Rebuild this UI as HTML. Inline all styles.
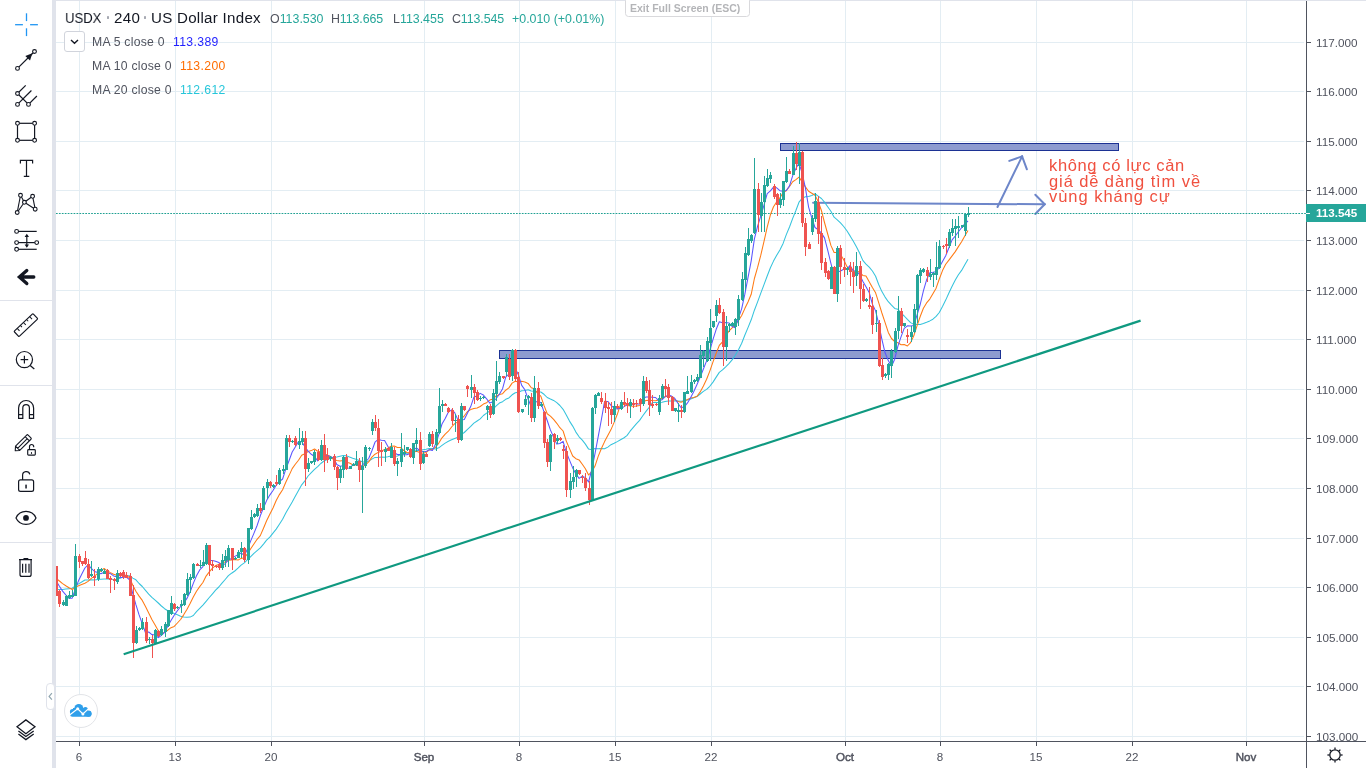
<!DOCTYPE html>
<html><head><meta charset="utf-8"><title>USDX</title>
<style>
html,body{margin:0;padding:0;}
body{width:1366px;height:768px;overflow:hidden;background:#fff;position:relative;font-family:"Liberation Sans",sans-serif;color:#131722;}
.abs{position:absolute;}
.plab,.tlab,.cur,.title,.ohlc,.leg,.val,.exit,.note{will-change:transform;}
.strip{position:absolute;left:52px;top:0;width:4px;height:768px;background:#e0e3eb;}
.topline{position:absolute;left:52px;top:0;width:1314px;height:1px;background:#e0e3eb;}
.sep{position:absolute;left:0;width:52px;height:1px;background:#e0e3eb;}
svg.chart{position:absolute;left:56px;top:0;}
svg.tb{position:absolute;left:0;top:0;}
.paxis{position:absolute;left:1306px;top:1px;width:1px;height:767px;background:#4f535e;}
.taxis{position:absolute;left:56px;top:741px;width:1310px;height:1px;background:#4f535e;}
.ptick{position:absolute;left:1307px;width:4px;height:1px;background:#4f535e;}
.plab{position:absolute;left:1315.6px;width:50px;height:15px;line-height:15px;font-size:11.7px;margin-top:0.1px;color:#50535e;white-space:nowrap;}
.ttick{position:absolute;top:742px;width:1px;height:4px;background:#4f535e;}
.tlab{position:absolute;top:749px;width:60px;text-align:center;font-size:11.6px;line-height:16px;color:#50535e;}
.tlab.b{font-weight:normal;-webkit-text-stroke:0.45px #50535e;}
.cur{position:absolute;left:1306px;top:204px;width:60px;height:18px;background:#26a69a;color:#fff;font-weight:bold;font-size:11.6px;line-height:18px;}
.cur span{position:absolute;left:10px;}
.cur i{position:absolute;left:0;top:9px;width:4px;height:1px;background:#fff;}
.title{position:absolute;left:64.9px;top:8.9px;font-size:15.1px;letter-spacing:0.22px;line-height:18px;white-space:nowrap;color:#131722;}
.title.dot{color:#9a9da6;}
.ohlc{position:absolute;top:10.6px;font-size:12.4px;line-height:16px;white-space:nowrap;color:#50535e;}
.ohlc b{font-weight:normal;color:#26a69a;}
.leg{position:absolute;left:91.7px;font-size:12.2px;letter-spacing:0.24px;line-height:16px;white-space:nowrap;color:#50535e;}
.val{position:absolute;font-size:12.2px;letter-spacing:0.36px;line-height:16px;white-space:nowrap;}
.tog{position:absolute;left:64px;top:31px;width:19px;height:19px;border:1px solid #d1d4dc;border-radius:3px;background:#fff;box-sizing:content-box;}
.exit{position:absolute;left:624.5px;top:-3px;width:125px;height:19.5px;border:1px solid #d9d9dc;border-radius:3.5px;background:#fff;font-size:10.5px;line-height:20px;color:#b4b5b8;font-weight:bold;text-align:left;padding-left:4px;box-sizing:border-box;white-space:nowrap;}
.note{position:absolute;left:1049px;font-size:16.5px;line-height:16px;height:16px;color:#f0503f;white-space:nowrap;}
.tab{position:absolute;left:46px;top:683px;width:6.6px;height:24.5px;border:1px solid #e0e3eb;border-radius:4px;background:#fff;}
.logo{position:absolute;left:64px;top:694px;width:32px;height:32px;border:1px solid #e2e4e8;border-radius:50%;background:#fff;}
</style></head><body>
<svg class="chart" width="1250" height="741" viewBox="0 0 1250 741"><g shape-rendering="crispEdges"><rect x="23" y="0" width="1" height="741" fill="#e3edf3"/><rect x="119" y="0" width="1" height="741" fill="#e3edf3"/><rect x="215" y="0" width="1" height="741" fill="#e3edf3"/><rect x="368" y="0" width="1" height="741" fill="#e3edf3"/><rect x="463" y="0" width="1" height="741" fill="#e3edf3"/><rect x="559" y="0" width="1" height="741" fill="#e3edf3"/><rect x="655" y="0" width="1" height="741" fill="#e3edf3"/><rect x="789" y="0" width="1" height="741" fill="#e3edf3"/><rect x="884" y="0" width="1" height="741" fill="#e3edf3"/><rect x="980" y="0" width="1" height="741" fill="#e3edf3"/><rect x="1076" y="0" width="1" height="741" fill="#e3edf3"/><rect x="1190" y="0" width="1" height="741" fill="#e3edf3"/><rect x="0" y="736" width="1248" height="1" fill="#e3edf3"/><rect x="0" y="686" width="1248" height="1" fill="#e3edf3"/><rect x="0" y="637" width="1248" height="1" fill="#e3edf3"/><rect x="0" y="587" width="1248" height="1" fill="#e3edf3"/><rect x="0" y="538" width="1248" height="1" fill="#e3edf3"/><rect x="0" y="488" width="1248" height="1" fill="#e3edf3"/><rect x="0" y="438" width="1248" height="1" fill="#e3edf3"/><rect x="0" y="389" width="1248" height="1" fill="#e3edf3"/><rect x="0" y="339" width="1248" height="1" fill="#e3edf3"/><rect x="0" y="290" width="1248" height="1" fill="#e3edf3"/><rect x="0" y="240" width="1248" height="1" fill="#e3edf3"/><rect x="0" y="190" width="1248" height="1" fill="#e3edf3"/><rect x="0" y="141" width="1248" height="1" fill="#e3edf3"/><rect x="0" y="91" width="1248" height="1" fill="#e3edf3"/><rect x="0" y="42" width="1248" height="1" fill="#e3edf3"/></g><g shape-rendering="crispEdges"><rect x="443" y="350" width="502" height="9" fill="#1c3294"/><rect x="444" y="351" width="500" height="7" fill="#8d9bd0"/><rect x="724" y="143" width="339" height="8" fill="#1c3294"/><rect x="725" y="144" width="337" height="6" fill="#8d9bd0"/></g><line x1="757.1" y1="202.8" x2="988.7" y2="204.3" stroke="#6d86c9" stroke-width="2" stroke-linecap="round"/><line x1="988.7" y1="204.3" x2="979.3" y2="194.7" stroke="#6d86c9" stroke-width="2" stroke-linecap="round"/><line x1="988.7" y1="204.3" x2="979.3" y2="214.0" stroke="#6d86c9" stroke-width="2" stroke-linecap="round"/><line x1="941.5" y1="207.0" x2="966.1" y2="156.4" stroke="#6d86c9" stroke-width="2" stroke-linecap="round"/><line x1="966.1" y1="156.4" x2="953.3" y2="160.9" stroke="#6d86c9" stroke-width="2" stroke-linecap="round"/><line x1="966.1" y1="156.4" x2="970.9" y2="169.3" stroke="#6d86c9" stroke-width="2" stroke-linecap="round"/><line x1="0" y1="213.5" x2="1250" y2="213.5" stroke="#1fa092" stroke-width="1.2" stroke-dasharray="1.7 1.23"/><polyline points="0.2,589.5 3.4,589.6 6.6,589.5 9.8,589.1 13.0,588.7 16.2,588.3 19.4,586.0 22.6,583.9 25.7,582.0 28.9,580.0 32.1,579.9 35.3,579.7 38.5,579.9 41.7,579.6 44.9,579.3 48.1,579.0 51.2,579.1 54.4,579.2 57.6,579.4 60.8,579.2 64.0,578.2 67.2,576.9 70.4,575.7 73.6,575.7 76.8,578.1 79.9,579.8 83.1,583.5 86.3,586.5 89.5,590.3 92.7,594.1 95.9,597.3 99.1,600.1 102.3,603.0 105.4,606.0 108.6,608.7 111.8,610.7 115.0,611.9 118.2,613.4 121.4,614.7 124.6,616.2 127.8,617.1 130.9,617.2 134.1,617.1 137.3,615.5 140.5,611.7 143.7,608.4 146.9,605.1 150.1,601.3 153.3,597.5 156.5,593.8 159.6,590.1 162.8,587.0 166.0,583.2 169.2,579.5 172.4,575.7 175.6,573.2 178.8,571.0 182.0,568.1 185.1,565.1 188.3,562.9 191.5,559.7 194.7,556.6 197.9,553.4 201.1,550.7 204.3,547.9 207.5,544.1 210.6,540.1 213.8,537.2 217.0,533.2 220.2,529.1 223.4,524.2 226.6,519.2 229.8,513.1 233.0,507.4 236.2,502.1 239.3,496.3 242.5,490.5 245.7,484.8 248.9,480.8 252.1,476.0 255.3,472.6 258.5,469.4 261.7,466.7 264.8,463.5 268.0,461.0 271.2,459.6 274.4,458.4 277.6,457.4 280.8,457.0 284.0,456.3 287.2,455.6 290.3,455.7 293.5,457.1 296.7,458.2 299.9,459.2 303.1,460.5 306.3,461.7 309.5,462.2 312.7,461.1 315.9,459.1 319.0,457.4 322.2,457.4 325.4,457.0 328.6,457.2 331.8,456.7 335.0,456.1 338.2,456.4 341.4,456.1 344.5,454.7 347.7,453.8 350.9,453.3 354.1,452.7 357.3,451.6 360.5,450.4 363.7,450.5 366.9,449.7 370.0,449.3 373.2,448.6 376.4,448.4 379.6,448.9 382.8,447.8 386.0,445.4 389.2,443.1 392.4,441.3 395.6,439.8 398.7,438.4 401.9,437.2 405.1,434.5 408.3,432.5 411.5,429.4 414.7,426.4 417.9,423.1 421.1,421.0 424.2,418.9 427.4,415.5 430.6,413.1 433.8,411.0 437.0,409.0 440.2,405.9 443.4,403.1 446.6,401.7 449.7,399.3 452.9,397.9 456.1,394.8 459.3,392.7 462.5,392.3 465.7,390.7 468.9,390.4 472.1,389.7 475.3,391.1 478.4,391.2 481.6,391.8 484.8,392.0 488.0,394.3 491.2,397.5 494.4,399.0 497.6,400.4 500.8,402.6 503.9,405.5 507.1,409.3 510.3,414.9 513.5,421.1 516.7,426.1 519.9,432.1 523.1,436.8 526.3,440.1 529.4,444.1 532.6,449.1 535.8,449.7 539.0,448.5 542.2,448.7 545.4,448.6 548.6,448.8 551.8,447.1 555.0,444.7 558.1,443.3 561.3,441.6 564.5,439.7 567.7,438.0 570.9,435.6 574.1,431.2 577.3,427.4 580.5,423.7 583.6,420.4 586.8,415.8 590.0,411.4 593.2,407.2 596.4,402.5 599.6,402.4 602.8,402.6 606.0,402.2 609.1,401.6 612.3,401.0 615.5,401.1 618.7,400.8 621.9,401.0 625.1,401.2 628.3,400.7 631.5,400.1 634.7,399.0 637.8,397.8 641.0,396.5 644.2,394.0 647.4,391.4 650.6,389.4 653.8,386.3 657.0,382.1 660.2,377.1 663.3,372.4 666.5,369.9 669.7,366.9 672.9,363.6 676.1,359.9 679.3,355.3 682.5,349.8 685.7,343.3 688.8,335.3 692.0,327.6 695.2,319.8 698.4,310.2 701.6,301.9 704.8,293.1 708.0,284.6 711.2,276.0 714.4,267.7 717.5,261.1 720.7,255.3 723.9,249.9 727.1,243.4 730.3,234.6 733.5,227.0 736.7,218.4 739.9,210.5 743.0,202.2 746.2,198.4 749.4,196.8 752.6,196.6 755.8,195.5 759.0,193.8 762.2,196.1 765.4,198.5 768.5,202.1 771.7,206.8 774.9,211.3 778.1,217.2 781.3,219.8 784.5,222.9 787.7,226.5 790.9,230.8 794.1,235.9 797.2,241.1 800.4,246.7 803.6,253.0 806.8,260.4 810.0,264.2 813.2,267.2 816.4,271.0 819.6,276.2 822.7,284.5 825.9,291.6 829.1,297.1 832.3,301.7 835.5,305.2 838.7,308.4 841.9,309.3 845.1,313.2 848.2,316.0 851.4,319.4 854.6,322.6 857.8,324.4 861.0,324.3 864.2,324.4 867.4,323.4 870.6,322.2 873.8,320.9 876.9,319.2 880.1,316.4 883.3,312.5 886.5,306.6 889.7,300.1 892.9,293.0 896.1,286.2 899.3,280.0 902.4,274.7 905.6,270.4 908.8,264.8 912.0,259.3" fill="none" stroke="#35c3dc" stroke-width="1.05" stroke-linejoin="round"/><polyline points="0.2,578.4 3.4,581.0 6.6,583.6 9.8,585.7 13.0,587.7 16.2,589.5 19.4,587.4 22.6,585.8 25.7,584.5 28.9,583.2 32.1,581.4 35.3,578.4 38.5,576.1 41.7,573.4 44.9,570.9 48.1,568.5 51.2,570.8 54.4,572.6 57.6,574.3 60.8,575.2 64.0,575.0 67.2,575.3 70.4,575.3 73.6,577.9 76.8,585.3 79.9,591.2 83.1,596.1 86.3,600.4 89.5,606.4 92.7,613.0 95.9,619.6 99.1,624.9 102.3,630.7 105.4,634.1 108.6,632.2 111.8,630.2 115.0,627.7 118.2,626.4 121.4,623.0 124.6,619.5 127.8,614.6 130.9,609.5 134.1,603.6 137.3,597.0 140.5,591.2 143.7,586.6 146.9,582.5 150.1,576.1 153.3,571.9 156.5,568.2 159.6,565.6 162.8,564.5 166.0,562.8 169.2,562.1 172.4,560.3 175.6,559.9 178.8,559.4 182.0,560.1 185.1,558.4 188.3,557.7 191.5,553.8 194.7,548.7 197.9,544.0 201.1,539.3 204.3,535.6 207.5,528.3 210.6,520.8 213.8,514.2 217.0,508.0 220.2,500.5 223.4,494.6 226.6,489.8 229.8,482.2 233.0,475.6 236.2,468.6 239.3,464.3 242.5,460.2 245.7,455.3 248.9,453.7 252.1,451.5 255.3,450.6 258.5,449.0 261.7,451.2 264.8,451.5 268.0,453.4 271.2,454.9 274.4,456.5 277.6,459.5 280.8,460.4 284.0,461.0 287.2,460.6 290.3,462.3 293.5,463.0 296.7,464.8 299.9,465.0 303.1,466.0 306.3,466.8 309.5,464.8 312.7,461.9 315.9,457.1 319.0,454.2 322.2,452.4 325.4,451.0 328.6,449.6 331.8,448.5 335.0,446.2 338.2,446.0 341.4,447.4 344.5,447.5 347.7,450.5 350.9,452.5 354.1,453.1 357.3,452.2 360.5,451.3 363.7,452.6 366.9,453.2 370.0,452.5 373.2,449.8 376.4,449.2 379.6,447.3 382.8,443.1 386.0,437.8 389.2,434.1 392.4,431.2 395.6,427.0 398.7,423.6 401.9,421.9 405.1,419.2 408.3,415.8 411.5,411.5 414.7,409.6 417.9,408.5 421.1,407.9 424.2,406.5 427.4,404.1 430.6,402.7 433.8,400.1 437.0,398.9 440.2,396.0 443.4,394.6 446.6,393.7 449.7,390.2 452.9,387.9 456.1,383.1 459.3,381.3 462.5,381.9 465.7,381.3 468.9,381.9 472.1,383.4 475.3,387.7 478.4,388.7 481.6,393.5 484.8,396.1 488.0,405.4 491.2,413.8 494.4,416.1 497.6,419.4 500.8,423.3 503.9,427.7 507.1,431.0 510.3,441.1 513.5,448.6 516.7,456.0 519.9,458.7 523.1,459.9 526.3,464.2 529.4,468.8 532.6,475.0 535.8,471.7 539.0,466.1 542.2,456.4 545.4,448.5 548.6,441.6 551.8,435.5 555.0,429.6 558.1,422.4 561.3,414.3 564.5,404.5 567.7,404.2 570.9,405.2 574.1,406.1 577.3,406.3 580.5,405.9 583.6,405.4 586.8,402.0 590.0,400.5 593.2,400.2 596.4,400.6 599.6,400.7 602.8,400.0 606.0,398.3 609.1,396.8 612.3,396.1 615.5,396.8 618.7,399.6 621.9,401.5 625.1,402.3 628.3,400.9 631.5,399.5 634.7,398.0 637.8,397.4 641.0,396.2 644.2,391.9 647.4,385.9 650.6,379.2 653.8,371.1 657.0,361.9 660.2,353.2 663.3,345.4 666.5,341.8 669.7,336.5 672.9,331.1 676.1,327.9 679.3,324.7 682.5,320.5 685.7,315.5 688.8,308.6 692.0,302.0 695.2,294.3 698.4,278.5 701.6,267.4 704.8,255.2 708.0,241.3 711.2,227.2 714.4,214.8 717.5,206.7 720.7,201.9 723.9,197.9 727.1,192.4 730.3,190.7 733.5,186.5 736.7,181.7 739.9,179.6 743.0,177.1 746.2,181.9 749.4,186.9 752.6,191.3 755.8,193.2 759.0,195.2 762.2,201.5 765.4,210.5 768.5,222.5 771.7,234.0 774.9,245.4 778.1,252.5 781.3,252.6 784.5,254.5 787.7,259.7 790.9,266.4 794.1,270.2 797.2,271.6 800.4,271.0 803.6,272.0 806.8,275.4 810.0,275.9 813.2,281.7 816.4,287.5 819.6,292.8 822.7,302.6 825.9,313.0 829.1,322.6 832.3,332.4 835.5,338.5 838.7,341.5 841.9,342.7 845.1,344.7 848.2,344.5 851.4,346.0 854.6,342.6 857.8,335.8 861.0,325.9 864.2,316.5 867.4,308.3 870.6,302.9 873.8,299.1 876.9,293.8 880.1,288.2 883.3,279.0 886.5,270.6 889.7,264.3 892.9,260.1 896.1,255.9 899.3,251.6 902.4,246.6 905.6,241.8 908.8,235.9 912.0,230.5" fill="none" stroke="#ff7a14" stroke-width="1.05" stroke-linejoin="round"/><polyline points="0.2,580.9 3.4,586.3 6.6,591.1 9.8,594.8 13.0,598.3 16.2,598.2 19.4,588.6 22.6,580.6 25.7,574.2 28.9,568.0 32.1,564.7 35.3,568.3 38.5,571.5 41.7,572.6 44.9,573.7 48.1,572.3 51.2,573.3 54.4,573.6 57.6,575.9 60.8,576.7 64.0,577.6 67.2,577.3 70.4,577.0 73.6,579.9 76.8,593.9 79.9,604.7 83.1,614.9 86.3,623.8 89.5,632.8 92.7,632.0 95.9,634.6 99.1,634.9 102.3,637.6 105.4,635.3 108.6,632.4 111.8,625.9 115.0,620.5 118.2,615.2 121.4,610.7 124.6,606.5 127.8,603.3 130.9,598.4 134.1,592.0 137.3,583.4 140.5,575.8 143.7,569.9 146.9,566.6 150.1,560.3 153.3,560.4 156.5,560.6 159.6,561.2 162.8,562.5 166.0,565.4 169.2,563.7 172.4,560.0 175.6,558.6 178.8,556.4 182.0,554.7 185.1,553.0 188.3,555.4 191.5,549.0 194.7,540.9 197.9,533.4 201.1,525.5 204.3,515.8 207.5,507.7 210.6,500.6 213.8,495.1 217.0,490.5 220.2,485.2 223.4,481.6 226.6,479.0 229.8,469.2 233.0,460.7 236.2,452.0 239.3,446.9 242.5,441.4 245.7,441.4 248.9,446.7 252.1,451.1 255.3,454.3 258.5,456.5 261.7,460.9 264.8,456.3 268.0,455.7 271.2,455.5 274.4,456.5 277.6,458.1 280.8,464.5 284.0,466.3 287.2,465.8 290.3,468.2 293.5,468.0 296.7,465.2 299.9,463.6 303.1,466.2 306.3,465.5 309.5,461.7 312.7,458.5 315.9,450.7 319.0,442.2 322.2,439.4 325.4,440.3 328.6,440.6 331.8,446.3 335.0,450.1 338.2,452.7 341.4,454.5 344.5,454.5 347.7,454.8 350.9,454.8 354.1,453.4 357.3,449.9 360.5,448.0 363.7,450.4 366.9,451.7 370.0,451.6 373.2,449.7 376.4,450.4 379.6,444.1 382.8,434.6 386.0,424.0 389.2,418.4 392.4,412.1 395.6,409.9 398.7,412.6 401.9,419.9 405.1,419.9 408.3,419.5 411.5,413.1 414.7,406.6 417.9,397.1 421.1,395.9 424.2,393.4 427.4,395.0 430.6,398.8 433.8,403.1 437.0,401.8 440.2,398.5 443.4,394.3 446.6,388.7 449.7,377.2 452.9,374.0 456.1,367.8 459.3,368.3 462.5,375.1 465.7,385.4 468.9,389.8 472.1,399.0 475.3,407.0 478.4,402.3 481.6,401.5 484.8,402.4 488.0,411.8 491.2,420.5 494.4,429.9 497.6,437.2 500.8,444.1 503.9,443.5 507.1,441.4 510.3,452.3 513.5,460.1 516.7,467.9 519.9,473.9 523.1,478.4 526.3,476.1 529.4,477.6 532.6,482.0 535.8,469.5 539.0,453.7 542.2,436.7 545.4,419.5 548.6,401.2 551.8,401.4 555.0,405.4 558.1,408.0 561.3,409.1 564.5,407.9 567.7,406.9 570.9,404.9 574.1,404.1 577.3,403.5 580.5,403.9 583.6,403.9 586.8,399.1 590.0,396.9 593.2,396.9 596.4,397.2 599.6,397.5 602.8,400.8 606.0,399.8 609.1,396.7 612.3,395.1 615.5,396.1 618.7,398.3 621.9,403.2 625.1,407.8 628.3,406.8 631.5,402.9 634.7,397.6 637.8,391.5 641.0,384.5 644.2,377.1 647.4,369.0 650.6,360.9 653.8,350.6 657.0,339.3 660.2,329.3 663.3,321.7 666.5,322.8 669.7,322.4 672.9,322.9 676.1,326.5 679.3,327.7 682.5,318.1 685.7,308.6 688.8,294.4 692.0,277.6 695.2,260.8 698.4,238.8 701.6,226.2 704.8,215.9 708.0,205.1 711.2,193.6 714.4,190.8 717.5,187.2 720.7,187.8 723.9,190.7 727.1,191.3 730.3,190.5 733.5,185.9 736.7,175.6 739.9,168.6 743.0,163.0 746.2,173.3 749.4,187.9 752.6,207.1 755.8,217.8 759.0,227.5 762.2,229.7 765.4,233.1 768.5,237.9 771.7,250.1 774.9,263.3 778.1,275.2 781.3,272.2 784.5,271.0 787.7,269.2 790.9,269.4 794.1,265.2 797.2,271.0 800.4,270.9 803.6,274.7 806.8,281.3 810.0,286.7 813.2,292.5 816.4,304.1 819.6,310.9 822.7,323.8 825.9,339.3 829.1,352.8 832.3,360.6 835.5,366.2 838.7,359.2 841.9,346.1 845.1,336.6 848.2,328.4 851.4,325.8 854.6,325.9 857.8,325.6 861.0,315.2 864.2,304.5 867.4,290.9 870.6,279.8 873.8,272.7 876.9,272.3 880.1,271.8 883.3,267.2 886.5,261.4 889.7,255.8 892.9,247.8 896.1,239.9 899.3,236.0 902.4,231.8 905.6,227.7 908.8,223.9 912.0,221.0" fill="none" stroke="#5a55ff" stroke-width="1.05" stroke-linejoin="round"/><g shape-rendering="crispEdges"><rect x="0" y="566" width="1" height="30" fill="#ef5350"/><rect x="-1" y="566" width="3" height="30" fill="#ef5350"/><rect x="3" y="590" width="1" height="17" fill="#ef5350"/><rect x="2" y="591" width="3" height="13" fill="#ef5350"/><rect x="7" y="600" width="1" height="6" fill="#26a69a"/><rect x="6" y="602" width="3" height="3" fill="#26a69a"/><rect x="10" y="595" width="1" height="11" fill="#26a69a"/><rect x="9" y="596" width="3" height="10" fill="#26a69a"/><rect x="13" y="591" width="1" height="8" fill="#26a69a"/><rect x="12" y="595" width="3" height="3" fill="#26a69a"/><rect x="16" y="590" width="1" height="7" fill="#26a69a"/><rect x="15" y="595" width="3" height="2" fill="#26a69a"/><rect x="19" y="544" width="1" height="52" fill="#26a69a"/><rect x="18" y="556" width="3" height="40" fill="#26a69a"/><rect x="23" y="554" width="1" height="14" fill="#ef5350"/><rect x="22" y="556" width="3" height="6" fill="#ef5350"/><rect x="26" y="561" width="1" height="5" fill="#ef5350"/><rect x="25" y="561" width="3" height="3" fill="#ef5350"/><rect x="29" y="551" width="1" height="14" fill="#ef5350"/><rect x="28" y="558" width="3" height="6" fill="#ef5350"/><rect x="32" y="559" width="1" height="20" fill="#ef5350"/><rect x="31" y="564" width="3" height="14" fill="#ef5350"/><rect x="35" y="561" width="1" height="16" fill="#26a69a"/><rect x="34" y="574" width="3" height="2" fill="#26a69a"/><rect x="38" y="569" width="1" height="17" fill="#ef5350"/><rect x="37" y="576" width="3" height="2" fill="#ef5350"/><rect x="42" y="567" width="1" height="14" fill="#26a69a"/><rect x="41" y="569" width="3" height="10" fill="#26a69a"/><rect x="45" y="568" width="1" height="4" fill="#26a69a"/><rect x="44" y="569" width="3" height="2" fill="#26a69a"/><rect x="48" y="569" width="1" height="5" fill="#26a69a"/><rect x="47" y="571" width="3" height="3" fill="#26a69a"/><rect x="51" y="569" width="1" height="10" fill="#ef5350"/><rect x="50" y="570" width="3" height="9" fill="#ef5350"/><rect x="54" y="576" width="1" height="17" fill="#ef5350"/><rect x="53" y="578" width="3" height="2" fill="#ef5350"/><rect x="58" y="578" width="1" height="12" fill="#ef5350"/><rect x="57" y="579" width="3" height="2" fill="#ef5350"/><rect x="61" y="570" width="1" height="14" fill="#26a69a"/><rect x="60" y="573" width="3" height="9" fill="#26a69a"/><rect x="64" y="572" width="1" height="5" fill="#ef5350"/><rect x="63" y="573" width="3" height="3" fill="#ef5350"/><rect x="67" y="570" width="1" height="9" fill="#ef5350"/><rect x="66" y="572" width="3" height="5" fill="#ef5350"/><rect x="70" y="572" width="1" height="6" fill="#ef5350"/><rect x="69" y="575" width="3" height="3" fill="#ef5350"/><rect x="74" y="573" width="1" height="23" fill="#ef5350"/><rect x="73" y="576" width="3" height="20" fill="#ef5350"/><rect x="77" y="585" width="1" height="73" fill="#ef5350"/><rect x="76" y="595" width="3" height="48" fill="#ef5350"/><rect x="80" y="626" width="1" height="18" fill="#26a69a"/><rect x="79" y="630" width="3" height="13" fill="#26a69a"/><rect x="83" y="627" width="1" height="4" fill="#26a69a"/><rect x="82" y="628" width="3" height="2" fill="#26a69a"/><rect x="86" y="618" width="1" height="12" fill="#26a69a"/><rect x="85" y="622" width="3" height="7" fill="#26a69a"/><rect x="90" y="617" width="1" height="26" fill="#ef5350"/><rect x="89" y="622" width="3" height="19" fill="#ef5350"/><rect x="93" y="637" width="1" height="7" fill="#26a69a"/><rect x="92" y="639" width="3" height="1" fill="#26a69a"/><rect x="96" y="635" width="1" height="23" fill="#ef5350"/><rect x="95" y="639" width="3" height="4" fill="#ef5350"/><rect x="99" y="629" width="1" height="15" fill="#26a69a"/><rect x="98" y="630" width="3" height="14" fill="#26a69a"/><rect x="102" y="630" width="1" height="7" fill="#ef5350"/><rect x="101" y="631" width="3" height="5" fill="#ef5350"/><rect x="105" y="626" width="1" height="10" fill="#26a69a"/><rect x="104" y="629" width="3" height="6" fill="#26a69a"/><rect x="109" y="622" width="1" height="15" fill="#26a69a"/><rect x="108" y="624" width="3" height="8" fill="#26a69a"/><rect x="112" y="610" width="1" height="17" fill="#26a69a"/><rect x="111" y="610" width="3" height="16" fill="#26a69a"/><rect x="115" y="596" width="1" height="19" fill="#26a69a"/><rect x="114" y="603" width="3" height="11" fill="#26a69a"/><rect x="118" y="603" width="1" height="8" fill="#ef5350"/><rect x="117" y="604" width="3" height="5" fill="#ef5350"/><rect x="121" y="606" width="1" height="3" fill="#26a69a"/><rect x="120" y="607" width="3" height="1" fill="#26a69a"/><rect x="125" y="600" width="1" height="13" fill="#26a69a"/><rect x="124" y="604" width="3" height="2" fill="#26a69a"/><rect x="128" y="593" width="1" height="13" fill="#26a69a"/><rect x="127" y="594" width="3" height="11" fill="#26a69a"/><rect x="131" y="573" width="1" height="23" fill="#26a69a"/><rect x="130" y="579" width="3" height="16" fill="#26a69a"/><rect x="134" y="574" width="1" height="19" fill="#26a69a"/><rect x="133" y="577" width="3" height="3" fill="#26a69a"/><rect x="137" y="563" width="1" height="16" fill="#26a69a"/><rect x="136" y="564" width="3" height="14" fill="#26a69a"/><rect x="141" y="563" width="1" height="3" fill="#ef5350"/><rect x="140" y="564" width="3" height="2" fill="#ef5350"/><rect x="144" y="560" width="1" height="8" fill="#26a69a"/><rect x="143" y="565" width="3" height="1" fill="#26a69a"/><rect x="147" y="550" width="1" height="16" fill="#26a69a"/><rect x="146" y="562" width="3" height="4" fill="#26a69a"/><rect x="150" y="543" width="1" height="22" fill="#26a69a"/><rect x="149" y="545" width="3" height="19" fill="#26a69a"/><rect x="153" y="545" width="1" height="31" fill="#ef5350"/><rect x="152" y="545" width="3" height="20" fill="#ef5350"/><rect x="156" y="560" width="1" height="11" fill="#ef5350"/><rect x="155" y="564" width="3" height="2" fill="#ef5350"/><rect x="160" y="565" width="1" height="3" fill="#ef5350"/><rect x="159" y="566" width="3" height="1" fill="#ef5350"/><rect x="163" y="563" width="1" height="7" fill="#ef5350"/><rect x="162" y="564" width="3" height="4" fill="#ef5350"/><rect x="166" y="554" width="1" height="16" fill="#26a69a"/><rect x="165" y="560" width="3" height="8" fill="#26a69a"/><rect x="169" y="550" width="1" height="17" fill="#26a69a"/><rect x="168" y="556" width="3" height="5" fill="#26a69a"/><rect x="172" y="545" width="1" height="22" fill="#26a69a"/><rect x="171" y="548" width="3" height="12" fill="#26a69a"/><rect x="176" y="548" width="1" height="22" fill="#ef5350"/><rect x="175" y="548" width="3" height="12" fill="#ef5350"/><rect x="179" y="557" width="1" height="3" fill="#26a69a"/><rect x="178" y="558" width="3" height="1" fill="#26a69a"/><rect x="182" y="550" width="1" height="8" fill="#26a69a"/><rect x="181" y="552" width="3" height="6" fill="#26a69a"/><rect x="185" y="542" width="1" height="16" fill="#26a69a"/><rect x="184" y="548" width="3" height="4" fill="#26a69a"/><rect x="188" y="547" width="1" height="15" fill="#ef5350"/><rect x="187" y="548" width="3" height="12" fill="#ef5350"/><rect x="192" y="528" width="1" height="36" fill="#26a69a"/><rect x="191" y="528" width="3" height="32" fill="#26a69a"/><rect x="195" y="510" width="1" height="20" fill="#26a69a"/><rect x="194" y="517" width="3" height="12" fill="#26a69a"/><rect x="198" y="513" width="1" height="5" fill="#26a69a"/><rect x="197" y="514" width="3" height="3" fill="#26a69a"/><rect x="201" y="504" width="1" height="13" fill="#26a69a"/><rect x="200" y="508" width="3" height="8" fill="#26a69a"/><rect x="204" y="503" width="1" height="10" fill="#ef5350"/><rect x="203" y="508" width="3" height="3" fill="#ef5350"/><rect x="207" y="486" width="1" height="24" fill="#26a69a"/><rect x="206" y="488" width="3" height="22" fill="#26a69a"/><rect x="211" y="479" width="1" height="20" fill="#26a69a"/><rect x="210" y="482" width="3" height="6" fill="#26a69a"/><rect x="214" y="481" width="1" height="7" fill="#ef5350"/><rect x="213" y="482" width="3" height="4" fill="#ef5350"/><rect x="217" y="484" width="1" height="4" fill="#26a69a"/><rect x="216" y="485" width="3" height="2" fill="#26a69a"/><rect x="220" y="475" width="1" height="11" fill="#ef5350"/><rect x="219" y="482" width="3" height="2" fill="#ef5350"/><rect x="223" y="468" width="1" height="17" fill="#26a69a"/><rect x="222" y="470" width="3" height="14" fill="#26a69a"/><rect x="227" y="465" width="1" height="9" fill="#26a69a"/><rect x="226" y="469" width="3" height="2" fill="#26a69a"/><rect x="230" y="435" width="1" height="35" fill="#26a69a"/><rect x="229" y="438" width="3" height="32" fill="#26a69a"/><rect x="233" y="435" width="1" height="12" fill="#ef5350"/><rect x="232" y="438" width="3" height="4" fill="#ef5350"/><rect x="236" y="440" width="1" height="3" fill="#26a69a"/><rect x="235" y="441" width="3" height="1" fill="#26a69a"/><rect x="239" y="436" width="1" height="10" fill="#ef5350"/><rect x="238" y="438" width="3" height="7" fill="#ef5350"/><rect x="243" y="428" width="1" height="21" fill="#26a69a"/><rect x="242" y="441" width="3" height="4" fill="#26a69a"/><rect x="246" y="431" width="1" height="14" fill="#26a69a"/><rect x="245" y="438" width="3" height="4" fill="#26a69a"/><rect x="249" y="431" width="1" height="55" fill="#ef5350"/><rect x="248" y="438" width="3" height="31" fill="#ef5350"/><rect x="252" y="458" width="1" height="14" fill="#26a69a"/><rect x="251" y="463" width="3" height="6" fill="#26a69a"/><rect x="255" y="461" width="1" height="3" fill="#26a69a"/><rect x="254" y="461" width="3" height="2" fill="#26a69a"/><rect x="258" y="450" width="1" height="15" fill="#26a69a"/><rect x="257" y="452" width="3" height="10" fill="#26a69a"/><rect x="262" y="449" width="1" height="12" fill="#ef5350"/><rect x="261" y="452" width="3" height="8" fill="#ef5350"/><rect x="265" y="440" width="1" height="21" fill="#26a69a"/><rect x="264" y="445" width="3" height="15" fill="#26a69a"/><rect x="268" y="434" width="1" height="38" fill="#ef5350"/><rect x="267" y="445" width="3" height="15" fill="#ef5350"/><rect x="271" y="448" width="1" height="15" fill="#ef5350"/><rect x="270" y="456" width="3" height="4" fill="#ef5350"/><rect x="274" y="456" width="1" height="5" fill="#26a69a"/><rect x="273" y="457" width="3" height="2" fill="#26a69a"/><rect x="278" y="454" width="1" height="16" fill="#ef5350"/><rect x="277" y="456" width="3" height="11" fill="#ef5350"/><rect x="281" y="466" width="1" height="24" fill="#ef5350"/><rect x="280" y="467" width="3" height="11" fill="#ef5350"/><rect x="284" y="466" width="1" height="17" fill="#26a69a"/><rect x="283" y="469" width="3" height="9" fill="#26a69a"/><rect x="287" y="456" width="1" height="22" fill="#26a69a"/><rect x="286" y="457" width="3" height="13" fill="#26a69a"/><rect x="290" y="454" width="1" height="16" fill="#ef5350"/><rect x="289" y="457" width="3" height="12" fill="#ef5350"/><rect x="294" y="466" width="1" height="3" fill="#26a69a"/><rect x="293" y="466" width="3" height="3" fill="#26a69a"/><rect x="297" y="463" width="1" height="3" fill="#26a69a"/><rect x="296" y="464" width="3" height="2" fill="#26a69a"/><rect x="300" y="451" width="1" height="15" fill="#26a69a"/><rect x="299" y="461" width="3" height="4" fill="#26a69a"/><rect x="303" y="458" width="1" height="24" fill="#ef5350"/><rect x="302" y="461" width="3" height="9" fill="#ef5350"/><rect x="306" y="457" width="1" height="56" fill="#26a69a"/><rect x="305" y="466" width="3" height="4" fill="#26a69a"/><rect x="309" y="445" width="1" height="23" fill="#26a69a"/><rect x="308" y="447" width="3" height="19" fill="#26a69a"/><rect x="313" y="447" width="1" height="4" fill="#26a69a"/><rect x="312" y="448" width="3" height="1" fill="#26a69a"/><rect x="316" y="419" width="1" height="16" fill="#26a69a"/><rect x="315" y="422" width="3" height="9" fill="#26a69a"/><rect x="319" y="415" width="1" height="16" fill="#ef5350"/><rect x="318" y="422" width="3" height="6" fill="#ef5350"/><rect x="322" y="419" width="1" height="48" fill="#ef5350"/><rect x="321" y="428" width="3" height="23" fill="#ef5350"/><rect x="325" y="442" width="1" height="24" fill="#ef5350"/><rect x="324" y="450" width="3" height="2" fill="#ef5350"/><rect x="329" y="447" width="1" height="15" fill="#26a69a"/><rect x="328" y="449" width="3" height="3" fill="#26a69a"/><rect x="332" y="447" width="1" height="4" fill="#ef5350"/><rect x="331" y="448" width="3" height="3" fill="#ef5350"/><rect x="335" y="443" width="1" height="15" fill="#26a69a"/><rect x="334" y="447" width="3" height="11" fill="#26a69a"/><rect x="338" y="447" width="1" height="19" fill="#ef5350"/><rect x="337" y="450" width="3" height="14" fill="#ef5350"/><rect x="341" y="458" width="1" height="18" fill="#26a69a"/><rect x="340" y="461" width="3" height="3" fill="#26a69a"/><rect x="345" y="433" width="1" height="34" fill="#26a69a"/><rect x="344" y="449" width="3" height="13" fill="#26a69a"/><rect x="348" y="445" width="1" height="12" fill="#26a69a"/><rect x="347" y="452" width="3" height="2" fill="#26a69a"/><rect x="351" y="447" width="1" height="4" fill="#26a69a"/><rect x="350" y="447" width="3" height="3" fill="#26a69a"/><rect x="354" y="448" width="1" height="10" fill="#ef5350"/><rect x="353" y="449" width="3" height="8" fill="#ef5350"/><rect x="357" y="443" width="1" height="21" fill="#26a69a"/><rect x="356" y="443" width="3" height="15" fill="#26a69a"/><rect x="360" y="428" width="1" height="24" fill="#26a69a"/><rect x="359" y="440" width="3" height="4" fill="#26a69a"/><rect x="364" y="432" width="1" height="38" fill="#ef5350"/><rect x="363" y="440" width="3" height="24" fill="#ef5350"/><rect x="367" y="451" width="1" height="13" fill="#26a69a"/><rect x="366" y="454" width="3" height="9" fill="#26a69a"/><rect x="370" y="453" width="1" height="4" fill="#ef5350"/><rect x="369" y="454" width="3" height="3" fill="#ef5350"/><rect x="373" y="432" width="1" height="15" fill="#26a69a"/><rect x="372" y="434" width="3" height="12" fill="#26a69a"/><rect x="376" y="431" width="1" height="16" fill="#ef5350"/><rect x="375" y="434" width="3" height="10" fill="#ef5350"/><rect x="380" y="429" width="1" height="22" fill="#26a69a"/><rect x="379" y="432" width="3" height="13" fill="#26a69a"/><rect x="383" y="388" width="1" height="46" fill="#26a69a"/><rect x="382" y="406" width="3" height="27" fill="#26a69a"/><rect x="386" y="400" width="1" height="12" fill="#26a69a"/><rect x="385" y="404" width="3" height="2" fill="#26a69a"/><rect x="389" y="403" width="1" height="3" fill="#ef5350"/><rect x="388" y="404" width="3" height="2" fill="#ef5350"/><rect x="392" y="407" width="1" height="6" fill="#ef5350"/><rect x="391" y="408" width="3" height="4" fill="#ef5350"/><rect x="396" y="408" width="1" height="17" fill="#ef5350"/><rect x="395" y="410" width="3" height="11" fill="#ef5350"/><rect x="399" y="414" width="1" height="18" fill="#26a69a"/><rect x="398" y="420" width="3" height="1" fill="#26a69a"/><rect x="402" y="415" width="1" height="28" fill="#ef5350"/><rect x="401" y="419" width="3" height="21" fill="#ef5350"/><rect x="405" y="403" width="1" height="38" fill="#26a69a"/><rect x="404" y="406" width="3" height="34" fill="#26a69a"/><rect x="408" y="406" width="1" height="5" fill="#ef5350"/><rect x="407" y="406" width="3" height="4" fill="#ef5350"/><rect x="411" y="385" width="1" height="12" fill="#ef5350"/><rect x="410" y="386" width="3" height="3" fill="#ef5350"/><rect x="415" y="375" width="1" height="23" fill="#26a69a"/><rect x="414" y="387" width="3" height="3" fill="#26a69a"/><rect x="418" y="384" width="1" height="20" fill="#ef5350"/><rect x="417" y="387" width="3" height="6" fill="#ef5350"/><rect x="421" y="390" width="1" height="11" fill="#ef5350"/><rect x="420" y="392" width="3" height="8" fill="#ef5350"/><rect x="424" y="396" width="1" height="5" fill="#26a69a"/><rect x="423" y="398" width="3" height="1" fill="#26a69a"/><rect x="427" y="396" width="1" height="3" fill="#26a69a"/><rect x="426" y="397" width="3" height="1" fill="#26a69a"/><rect x="431" y="405" width="1" height="15" fill="#26a69a"/><rect x="430" y="406" width="3" height="4" fill="#26a69a"/><rect x="434" y="404" width="1" height="14" fill="#ef5350"/><rect x="433" y="406" width="3" height="9" fill="#ef5350"/><rect x="437" y="389" width="1" height="26" fill="#26a69a"/><rect x="436" y="393" width="3" height="21" fill="#26a69a"/><rect x="440" y="361" width="1" height="40" fill="#26a69a"/><rect x="439" y="381" width="3" height="13" fill="#26a69a"/><rect x="443" y="372" width="1" height="12" fill="#26a69a"/><rect x="442" y="376" width="3" height="6" fill="#26a69a"/><rect x="447" y="376" width="1" height="3" fill="#ef5350"/><rect x="446" y="376" width="3" height="2" fill="#ef5350"/><rect x="450" y="354" width="1" height="22" fill="#26a69a"/><rect x="449" y="357" width="3" height="15" fill="#26a69a"/><rect x="453" y="354" width="1" height="26" fill="#ef5350"/><rect x="452" y="359" width="3" height="18" fill="#ef5350"/><rect x="456" y="349" width="1" height="32" fill="#26a69a"/><rect x="455" y="350" width="3" height="26" fill="#26a69a"/><rect x="459" y="349" width="1" height="32" fill="#ef5350"/><rect x="458" y="350" width="3" height="29" fill="#ef5350"/><rect x="462" y="372" width="1" height="41" fill="#ef5350"/><rect x="461" y="377" width="3" height="35" fill="#ef5350"/><rect x="466" y="409" width="1" height="4" fill="#26a69a"/><rect x="465" y="409" width="3" height="3" fill="#26a69a"/><rect x="469" y="395" width="1" height="12" fill="#26a69a"/><rect x="468" y="399" width="3" height="6" fill="#26a69a"/><rect x="472" y="395" width="1" height="20" fill="#26a69a"/><rect x="471" y="396" width="3" height="2" fill="#26a69a"/><rect x="475" y="393" width="1" height="29" fill="#ef5350"/><rect x="474" y="397" width="3" height="21" fill="#ef5350"/><rect x="478" y="376" width="1" height="46" fill="#26a69a"/><rect x="477" y="388" width="3" height="30" fill="#26a69a"/><rect x="482" y="382" width="1" height="27" fill="#ef5350"/><rect x="481" y="388" width="3" height="18" fill="#ef5350"/><rect x="485" y="402" width="1" height="5" fill="#26a69a"/><rect x="484" y="404" width="3" height="2" fill="#26a69a"/><rect x="488" y="411" width="1" height="37" fill="#ef5350"/><rect x="487" y="412" width="3" height="31" fill="#ef5350"/><rect x="491" y="439" width="1" height="28" fill="#ef5350"/><rect x="490" y="442" width="3" height="20" fill="#ef5350"/><rect x="494" y="434" width="1" height="37" fill="#26a69a"/><rect x="493" y="435" width="3" height="27" fill="#26a69a"/><rect x="498" y="433" width="1" height="16" fill="#ef5350"/><rect x="497" y="434" width="3" height="8" fill="#ef5350"/><rect x="501" y="435" width="1" height="9" fill="#26a69a"/><rect x="500" y="438" width="3" height="3" fill="#26a69a"/><rect x="504" y="437" width="1" height="4" fill="#ef5350"/><rect x="503" y="438" width="3" height="2" fill="#ef5350"/><rect x="507" y="445" width="1" height="14" fill="#ef5350"/><rect x="506" y="449" width="3" height="2" fill="#ef5350"/><rect x="510" y="446" width="1" height="51" fill="#ef5350"/><rect x="509" y="451" width="3" height="39" fill="#ef5350"/><rect x="514" y="473" width="1" height="25" fill="#26a69a"/><rect x="513" y="481" width="3" height="9" fill="#26a69a"/><rect x="517" y="466" width="1" height="23" fill="#26a69a"/><rect x="516" y="477" width="3" height="5" fill="#26a69a"/><rect x="520" y="469" width="1" height="18" fill="#26a69a"/><rect x="519" y="470" width="3" height="7" fill="#26a69a"/><rect x="523" y="470" width="1" height="5" fill="#ef5350"/><rect x="522" y="470" width="3" height="4" fill="#ef5350"/><rect x="526" y="475" width="1" height="8" fill="#ef5350"/><rect x="525" y="477" width="3" height="1" fill="#ef5350"/><rect x="529" y="473" width="1" height="18" fill="#ef5350"/><rect x="528" y="478" width="3" height="10" fill="#ef5350"/><rect x="533" y="481" width="1" height="24" fill="#ef5350"/><rect x="532" y="488" width="3" height="12" fill="#ef5350"/><rect x="536" y="407" width="1" height="93" fill="#26a69a"/><rect x="535" y="408" width="3" height="92" fill="#26a69a"/><rect x="539" y="394" width="1" height="20" fill="#26a69a"/><rect x="538" y="395" width="3" height="13" fill="#26a69a"/><rect x="542" y="392" width="1" height="4" fill="#26a69a"/><rect x="541" y="393" width="3" height="3" fill="#26a69a"/><rect x="545" y="392" width="1" height="12" fill="#ef5350"/><rect x="544" y="398" width="3" height="4" fill="#ef5350"/><rect x="549" y="393" width="1" height="20" fill="#ef5350"/><rect x="548" y="401" width="3" height="7" fill="#ef5350"/><rect x="552" y="402" width="1" height="24" fill="#ef5350"/><rect x="551" y="407" width="3" height="2" fill="#ef5350"/><rect x="555" y="402" width="1" height="22" fill="#ef5350"/><rect x="554" y="409" width="3" height="6" fill="#ef5350"/><rect x="558" y="401" width="1" height="21" fill="#26a69a"/><rect x="557" y="406" width="3" height="9" fill="#26a69a"/><rect x="561" y="404" width="1" height="5" fill="#ef5350"/><rect x="560" y="406" width="3" height="2" fill="#ef5350"/><rect x="565" y="400" width="1" height="10" fill="#26a69a"/><rect x="564" y="402" width="3" height="7" fill="#26a69a"/><rect x="568" y="392" width="1" height="15" fill="#ef5350"/><rect x="567" y="402" width="3" height="2" fill="#ef5350"/><rect x="571" y="398" width="1" height="15" fill="#ef5350"/><rect x="570" y="403" width="3" height="2" fill="#ef5350"/><rect x="574" y="399" width="1" height="19" fill="#26a69a"/><rect x="573" y="402" width="3" height="4" fill="#26a69a"/><rect x="577" y="399" width="1" height="9" fill="#ef5350"/><rect x="576" y="403" width="3" height="2" fill="#ef5350"/><rect x="580" y="400" width="1" height="7" fill="#ef5350"/><rect x="579" y="403" width="3" height="1" fill="#ef5350"/><rect x="584" y="398" width="1" height="14" fill="#ef5350"/><rect x="583" y="399" width="3" height="5" fill="#ef5350"/><rect x="587" y="376" width="1" height="30" fill="#26a69a"/><rect x="586" y="381" width="3" height="23" fill="#26a69a"/><rect x="590" y="377" width="1" height="16" fill="#ef5350"/><rect x="589" y="381" width="3" height="10" fill="#ef5350"/><rect x="593" y="380" width="1" height="36" fill="#ef5350"/><rect x="592" y="390" width="3" height="15" fill="#ef5350"/><rect x="596" y="395" width="1" height="13" fill="#ef5350"/><rect x="595" y="404" width="3" height="2" fill="#ef5350"/><rect x="600" y="403" width="1" height="3" fill="#ef5350"/><rect x="599" y="404" width="3" height="1" fill="#ef5350"/><rect x="603" y="395" width="1" height="20" fill="#26a69a"/><rect x="602" y="398" width="3" height="14" fill="#26a69a"/><rect x="606" y="384" width="1" height="15" fill="#26a69a"/><rect x="605" y="386" width="3" height="12" fill="#26a69a"/><rect x="609" y="379" width="1" height="18" fill="#ef5350"/><rect x="608" y="386" width="3" height="3" fill="#ef5350"/><rect x="612" y="384" width="1" height="21" fill="#ef5350"/><rect x="611" y="387" width="3" height="11" fill="#ef5350"/><rect x="616" y="396" width="1" height="15" fill="#ef5350"/><rect x="615" y="397" width="3" height="14" fill="#ef5350"/><rect x="619" y="408" width="1" height="4" fill="#26a69a"/><rect x="618" y="408" width="3" height="3" fill="#26a69a"/><rect x="622" y="403" width="1" height="19" fill="#26a69a"/><rect x="621" y="410" width="3" height="2" fill="#26a69a"/><rect x="625" y="405" width="1" height="13" fill="#ef5350"/><rect x="624" y="410" width="3" height="2" fill="#ef5350"/><rect x="628" y="392" width="1" height="21" fill="#26a69a"/><rect x="627" y="392" width="3" height="20" fill="#26a69a"/><rect x="631" y="376" width="1" height="18" fill="#26a69a"/><rect x="630" y="391" width="3" height="3" fill="#26a69a"/><rect x="635" y="375" width="1" height="18" fill="#26a69a"/><rect x="634" y="382" width="3" height="10" fill="#26a69a"/><rect x="638" y="379" width="1" height="5" fill="#26a69a"/><rect x="637" y="380" width="3" height="2" fill="#26a69a"/><rect x="641" y="374" width="1" height="8" fill="#26a69a"/><rect x="640" y="377" width="3" height="4" fill="#26a69a"/><rect x="644" y="345" width="1" height="33" fill="#26a69a"/><rect x="643" y="355" width="3" height="23" fill="#26a69a"/><rect x="647" y="350" width="1" height="17" fill="#26a69a"/><rect x="646" y="351" width="3" height="5" fill="#26a69a"/><rect x="651" y="337" width="1" height="25" fill="#26a69a"/><rect x="650" y="341" width="3" height="20" fill="#26a69a"/><rect x="654" y="309" width="1" height="52" fill="#26a69a"/><rect x="653" y="328" width="3" height="15" fill="#26a69a"/><rect x="657" y="321" width="1" height="7" fill="#26a69a"/><rect x="656" y="321" width="3" height="6" fill="#26a69a"/><rect x="660" y="300" width="1" height="22" fill="#26a69a"/><rect x="659" y="305" width="3" height="11" fill="#26a69a"/><rect x="663" y="298" width="1" height="16" fill="#ef5350"/><rect x="662" y="305" width="3" height="8" fill="#ef5350"/><rect x="667" y="309" width="1" height="57" fill="#ef5350"/><rect x="666" y="312" width="3" height="35" fill="#ef5350"/><rect x="670" y="316" width="1" height="45" fill="#26a69a"/><rect x="669" y="326" width="3" height="21" fill="#26a69a"/><rect x="673" y="323" width="1" height="9" fill="#26a69a"/><rect x="672" y="324" width="3" height="2" fill="#26a69a"/><rect x="676" y="322" width="1" height="4" fill="#26a69a"/><rect x="675" y="323" width="3" height="3" fill="#26a69a"/><rect x="679" y="318" width="1" height="17" fill="#26a69a"/><rect x="678" y="319" width="3" height="8" fill="#26a69a"/><rect x="682" y="295" width="1" height="31" fill="#26a69a"/><rect x="681" y="299" width="3" height="21" fill="#26a69a"/><rect x="686" y="272" width="1" height="29" fill="#26a69a"/><rect x="685" y="279" width="3" height="21" fill="#26a69a"/><rect x="689" y="247" width="1" height="43" fill="#26a69a"/><rect x="688" y="253" width="3" height="27" fill="#26a69a"/><rect x="692" y="228" width="1" height="28" fill="#26a69a"/><rect x="691" y="239" width="3" height="16" fill="#26a69a"/><rect x="695" y="234" width="1" height="9" fill="#26a69a"/><rect x="694" y="235" width="3" height="6" fill="#26a69a"/><rect x="698" y="158" width="1" height="76" fill="#26a69a"/><rect x="697" y="189" width="3" height="44" fill="#26a69a"/><rect x="702" y="183" width="1" height="49" fill="#ef5350"/><rect x="701" y="189" width="3" height="26" fill="#ef5350"/><rect x="705" y="193" width="1" height="39" fill="#26a69a"/><rect x="704" y="202" width="3" height="14" fill="#26a69a"/><rect x="708" y="176" width="1" height="56" fill="#26a69a"/><rect x="707" y="185" width="3" height="17" fill="#26a69a"/><rect x="711" y="169" width="1" height="18" fill="#26a69a"/><rect x="710" y="178" width="3" height="8" fill="#26a69a"/><rect x="714" y="172" width="1" height="11" fill="#26a69a"/><rect x="713" y="175" width="3" height="4" fill="#26a69a"/><rect x="718" y="184" width="1" height="15" fill="#ef5350"/><rect x="717" y="186" width="3" height="11" fill="#ef5350"/><rect x="721" y="193" width="1" height="23" fill="#ef5350"/><rect x="720" y="194" width="3" height="11" fill="#ef5350"/><rect x="724" y="193" width="1" height="15" fill="#26a69a"/><rect x="723" y="199" width="3" height="6" fill="#26a69a"/><rect x="727" y="181" width="1" height="25" fill="#26a69a"/><rect x="726" y="181" width="3" height="19" fill="#26a69a"/><rect x="730" y="157" width="1" height="26" fill="#26a69a"/><rect x="729" y="171" width="3" height="11" fill="#26a69a"/><rect x="733" y="169" width="1" height="5" fill="#ef5350"/><rect x="732" y="171" width="3" height="3" fill="#ef5350"/><rect x="737" y="146" width="1" height="29" fill="#26a69a"/><rect x="736" y="153" width="3" height="22" fill="#26a69a"/><rect x="740" y="142" width="1" height="28" fill="#ef5350"/><rect x="739" y="153" width="3" height="11" fill="#ef5350"/><rect x="743" y="143" width="1" height="41" fill="#26a69a"/><rect x="742" y="152" width="3" height="14" fill="#26a69a"/><rect x="746" y="151" width="1" height="76" fill="#ef5350"/><rect x="745" y="152" width="3" height="71" fill="#ef5350"/><rect x="749" y="218" width="1" height="38" fill="#ef5350"/><rect x="748" y="223" width="3" height="24" fill="#ef5350"/><rect x="753" y="242" width="1" height="7" fill="#ef5350"/><rect x="752" y="244" width="3" height="5" fill="#ef5350"/><rect x="756" y="215" width="1" height="20" fill="#26a69a"/><rect x="755" y="218" width="3" height="14" fill="#26a69a"/><rect x="759" y="193" width="1" height="29" fill="#26a69a"/><rect x="758" y="201" width="3" height="18" fill="#26a69a"/><rect x="762" y="196" width="1" height="48" fill="#ef5350"/><rect x="761" y="202" width="3" height="32" fill="#ef5350"/><rect x="765" y="216" width="1" height="54" fill="#ef5350"/><rect x="764" y="233" width="3" height="30" fill="#ef5350"/><rect x="769" y="258" width="1" height="19" fill="#ef5350"/><rect x="768" y="262" width="3" height="11" fill="#ef5350"/><rect x="772" y="270" width="1" height="10" fill="#ef5350"/><rect x="771" y="271" width="3" height="8" fill="#ef5350"/><rect x="775" y="266" width="1" height="23" fill="#26a69a"/><rect x="774" y="267" width="3" height="22" fill="#26a69a"/><rect x="778" y="266" width="1" height="28" fill="#ef5350"/><rect x="777" y="267" width="3" height="27" fill="#ef5350"/><rect x="781" y="246" width="1" height="56" fill="#26a69a"/><rect x="780" y="248" width="3" height="46" fill="#26a69a"/><rect x="784" y="245" width="1" height="39" fill="#ef5350"/><rect x="783" y="248" width="3" height="19" fill="#ef5350"/><rect x="788" y="258" width="1" height="19" fill="#ef5350"/><rect x="787" y="267" width="3" height="3" fill="#ef5350"/><rect x="791" y="267" width="1" height="8" fill="#26a69a"/><rect x="790" y="268" width="3" height="2" fill="#26a69a"/><rect x="794" y="262" width="1" height="24" fill="#ef5350"/><rect x="793" y="267" width="3" height="5" fill="#ef5350"/><rect x="797" y="262" width="1" height="31" fill="#ef5350"/><rect x="796" y="272" width="3" height="5" fill="#ef5350"/><rect x="800" y="252" width="1" height="34" fill="#26a69a"/><rect x="799" y="266" width="3" height="10" fill="#26a69a"/><rect x="804" y="261" width="1" height="48" fill="#ef5350"/><rect x="803" y="266" width="3" height="23" fill="#ef5350"/><rect x="807" y="284" width="1" height="18" fill="#ef5350"/><rect x="806" y="289" width="3" height="12" fill="#ef5350"/><rect x="810" y="298" width="1" height="4" fill="#26a69a"/><rect x="809" y="299" width="3" height="2" fill="#26a69a"/><rect x="813" y="287" width="1" height="22" fill="#ef5350"/><rect x="812" y="305" width="3" height="2" fill="#ef5350"/><rect x="816" y="297" width="1" height="37" fill="#ef5350"/><rect x="815" y="306" width="3" height="19" fill="#ef5350"/><rect x="820" y="310" width="1" height="22" fill="#26a69a"/><rect x="819" y="323" width="3" height="1" fill="#26a69a"/><rect x="823" y="320" width="1" height="47" fill="#ef5350"/><rect x="822" y="323" width="3" height="43" fill="#ef5350"/><rect x="826" y="358" width="1" height="22" fill="#ef5350"/><rect x="825" y="365" width="3" height="12" fill="#ef5350"/><rect x="829" y="373" width="1" height="5" fill="#26a69a"/><rect x="828" y="374" width="3" height="2" fill="#26a69a"/><rect x="832" y="363" width="1" height="17" fill="#26a69a"/><rect x="831" y="364" width="3" height="11" fill="#26a69a"/><rect x="835" y="349" width="1" height="29" fill="#26a69a"/><rect x="834" y="351" width="3" height="15" fill="#26a69a"/><rect x="839" y="328" width="1" height="25" fill="#26a69a"/><rect x="838" y="331" width="3" height="21" fill="#26a69a"/><rect x="842" y="296" width="1" height="43" fill="#26a69a"/><rect x="841" y="311" width="3" height="20" fill="#26a69a"/><rect x="845" y="308" width="1" height="25" fill="#ef5350"/><rect x="844" y="311" width="3" height="15" fill="#ef5350"/><rect x="848" y="323" width="1" height="4" fill="#26a69a"/><rect x="847" y="323" width="3" height="3" fill="#26a69a"/><rect x="851" y="329" width="1" height="14" fill="#ef5350"/><rect x="850" y="335" width="3" height="2" fill="#ef5350"/><rect x="855" y="326" width="1" height="16" fill="#26a69a"/><rect x="854" y="332" width="3" height="5" fill="#26a69a"/><rect x="858" y="304" width="1" height="29" fill="#26a69a"/><rect x="857" y="309" width="3" height="23" fill="#26a69a"/><rect x="861" y="274" width="1" height="49" fill="#26a69a"/><rect x="860" y="275" width="3" height="35" fill="#26a69a"/><rect x="864" y="268" width="1" height="15" fill="#26a69a"/><rect x="863" y="270" width="3" height="6" fill="#26a69a"/><rect x="867" y="268" width="1" height="5" fill="#26a69a"/><rect x="866" y="269" width="3" height="3" fill="#26a69a"/><rect x="871" y="267" width="1" height="15" fill="#ef5350"/><rect x="870" y="270" width="3" height="6" fill="#ef5350"/><rect x="874" y="259" width="1" height="21" fill="#26a69a"/><rect x="873" y="274" width="3" height="3" fill="#26a69a"/><rect x="877" y="272" width="1" height="15" fill="#26a69a"/><rect x="876" y="273" width="3" height="2" fill="#26a69a"/><rect x="880" y="242" width="1" height="38" fill="#26a69a"/><rect x="879" y="267" width="3" height="8" fill="#26a69a"/><rect x="883" y="240" width="1" height="29" fill="#26a69a"/><rect x="882" y="246" width="3" height="22" fill="#26a69a"/><rect x="887" y="245" width="1" height="4" fill="#ef5350"/><rect x="886" y="246" width="3" height="1" fill="#ef5350"/><rect x="890" y="238" width="1" height="16" fill="#ef5350"/><rect x="889" y="244" width="3" height="2" fill="#ef5350"/><rect x="893" y="229" width="1" height="19" fill="#26a69a"/><rect x="892" y="232" width="3" height="14" fill="#26a69a"/><rect x="896" y="219" width="1" height="17" fill="#26a69a"/><rect x="895" y="228" width="3" height="5" fill="#26a69a"/><rect x="899" y="219" width="1" height="27" fill="#26a69a"/><rect x="898" y="226" width="3" height="3" fill="#26a69a"/><rect x="902" y="216" width="1" height="22" fill="#26a69a"/><rect x="901" y="226" width="3" height="2" fill="#26a69a"/><rect x="906" y="225" width="1" height="3" fill="#26a69a"/><rect x="905" y="225" width="3" height="2" fill="#26a69a"/><rect x="909" y="213" width="1" height="23" fill="#26a69a"/><rect x="908" y="214" width="3" height="17" fill="#26a69a"/><rect x="912" y="207" width="1" height="10" fill="#26a69a"/><rect x="911" y="213" width="3" height="2" fill="#26a69a"/></g><line x1="67.65" y1="654.2" x2="1084.6" y2="320.6" stroke="#0f9980" stroke-width="2.2" stroke-linecap="butt"/></svg>
<div class="strip"></div><div class="topline"></div>
<svg class="tb" width="52" height="768" viewBox="0 0 52 768"><line x1="30.1" y1="24.7" x2="37.9" y2="24.7" stroke="#2196f3" stroke-width="1.3" stroke-linecap="butt"/><line x1="26.5" y1="28.3" x2="26.5" y2="36.1" stroke="#2196f3" stroke-width="1.3" stroke-linecap="butt"/><line x1="22.9" y1="24.7" x2="15.1" y2="24.7" stroke="#2196f3" stroke-width="1.3" stroke-linecap="butt"/><line x1="26.5" y1="21.099999999999998" x2="26.5" y2="13.299999999999999" stroke="#2196f3" stroke-width="1.3" stroke-linecap="butt"/><line x1="17.5" y1="68.4" x2="34.5" y2="51.5" stroke="#131722" stroke-width="1.2" stroke-linecap="butt"/><path d="M32.4 53.3 L25.3 56.1 L30 60.4 Z" fill="#131722"/><circle cx="17.5" cy="68.4" r="1.9" fill="#fff" stroke="#131722" stroke-width="1.1"/><circle cx="34.5" cy="51.5" r="1.9" fill="#fff" stroke="#131722" stroke-width="1.1"/><line x1="17.5" y1="93.5" x2="25.7" y2="85.3" stroke="#131722" stroke-width="1.2" stroke-linecap="butt"/><line x1="17.5" y1="104.4" x2="31.4" y2="90.5" stroke="#131722" stroke-width="1.2" stroke-linecap="butt"/><line x1="28.5" y1="104.4" x2="36.9" y2="96" stroke="#131722" stroke-width="1.2" stroke-linecap="butt"/><line x1="17.5" y1="93.5" x2="28.5" y2="104.4" stroke="#131722" stroke-width="1.2" stroke-linecap="butt"/><circle cx="17.5" cy="93.5" r="1.9" fill="#fff" stroke="#131722" stroke-width="1.1"/><circle cx="17.5" cy="104.4" r="1.9" fill="#fff" stroke="#131722" stroke-width="1.1"/><circle cx="28.5" cy="104.4" r="1.9" fill="#fff" stroke="#131722" stroke-width="1.1"/><rect x="17.5" y="123.3" width="17.1" height="17" fill="none" stroke="#131722" stroke-width="1.2"/><circle cx="17.5" cy="123.3" r="1.9" fill="#fff" stroke="#131722" stroke-width="1.1"/><circle cx="34.6" cy="123.3" r="1.9" fill="#fff" stroke="#131722" stroke-width="1.1"/><circle cx="17.5" cy="140.3" r="1.9" fill="#fff" stroke="#131722" stroke-width="1.1"/><circle cx="34.6" cy="140.3" r="1.9" fill="#fff" stroke="#131722" stroke-width="1.1"/><path d="M20.4 163.4 V160.3 H32.6 V163.4 M26.5 160.3 V176.2 M23.8 176.4 H29.3" fill="none" stroke="#131722" stroke-width="1.2"/><line x1="17.2" y1="212.5" x2="20.5" y2="195.3" stroke="#131722" stroke-width="1.1" stroke-linecap="butt"/><line x1="20.5" y1="195.3" x2="24.4" y2="202.3" stroke="#131722" stroke-width="1.1" stroke-linecap="butt"/><line x1="24.4" y1="202.3" x2="32.6" y2="196.3" stroke="#131722" stroke-width="1.1" stroke-linecap="butt"/><line x1="32.6" y1="196.3" x2="35.2" y2="209.2" stroke="#131722" stroke-width="1.1" stroke-linecap="butt"/><line x1="17.2" y1="212.5" x2="24.4" y2="202.3" stroke="#131722" stroke-width="1.1" stroke-linecap="butt"/><line x1="24.4" y1="202.3" x2="35.2" y2="209.2" stroke="#131722" stroke-width="1.1" stroke-linecap="butt"/><circle cx="17.2" cy="212.5" r="1.9" fill="#fff" stroke="#131722" stroke-width="1.1"/><circle cx="20.5" cy="195.3" r="1.9" fill="#fff" stroke="#131722" stroke-width="1.1"/><circle cx="24.4" cy="202.3" r="1.9" fill="#fff" stroke="#131722" stroke-width="1.1"/><circle cx="32.6" cy="196.3" r="1.9" fill="#fff" stroke="#131722" stroke-width="1.1"/><circle cx="35.2" cy="209.2" r="1.9" fill="#fff" stroke="#131722" stroke-width="1.1"/><line x1="16.6" y1="231.4" x2="36.7" y2="231.4" stroke="#131722" stroke-width="1.2" stroke-linecap="butt"/><line x1="16.6" y1="242.6" x2="36.7" y2="242.6" stroke="#131722" stroke-width="1.2" stroke-linecap="butt"/><line x1="16.6" y1="249.3" x2="36.7" y2="249.3" stroke="#131722" stroke-width="1.2" stroke-linecap="butt"/><line x1="26.8" y1="235" x2="26.8" y2="246.6" stroke="#131722" stroke-width="1.2" stroke-linecap="butt"/><path d="M26.8 233.7 L29 236.9 H24.6 Z M26.8 247.8 L29 244.6 H24.6 Z" fill="#131722"/><circle cx="16.6" cy="231.4" r="1.9" fill="#fff" stroke="#131722" stroke-width="1.1"/><circle cx="16.6" cy="242.6" r="1.9" fill="#fff" stroke="#131722" stroke-width="1.1"/><circle cx="36.7" cy="242.6" r="1.9" fill="#fff" stroke="#131722" stroke-width="1.1"/><circle cx="16.6" cy="249.3" r="1.9" fill="#fff" stroke="#131722" stroke-width="1.1"/><path d="M33.8 277 H19.6 M26.8 270.6 L19.4 277 L26.8 283.6" fill="none" stroke="#131722" stroke-width="3.3" stroke-linecap="round" stroke-linejoin="miter"/><g transform="translate(25.9 325.1) rotate(-43.5)"><rect x="-13" y="-3.6" width="26" height="7.2" rx="0.8" fill="#fff" stroke="#131722" stroke-width="1.2"/><line x1="-8.6" y1="-3.6" x2="-8.6" y2="-0.2" stroke="#131722" stroke-width="1"/><line x1="-4.3" y1="-3.6" x2="-4.3" y2="-1.2" stroke="#131722" stroke-width="1"/><line x1="0" y1="-3.6" x2="0" y2="-0.2" stroke="#131722" stroke-width="1"/><line x1="4.3" y1="-3.6" x2="4.3" y2="-1.2" stroke="#131722" stroke-width="1"/><line x1="8.6" y1="-3.6" x2="8.6" y2="-0.2" stroke="#131722" stroke-width="1"/></g><circle cx="24.4" cy="359.6" r="8.1" fill="none" stroke="#131722" stroke-width="1.2"/><line x1="20.6" y1="359.6" x2="28.2" y2="359.6" stroke="#131722" stroke-width="1.2" stroke-linecap="butt"/><line x1="24.4" y1="355.8" x2="24.4" y2="363.4" stroke="#131722" stroke-width="1.2" stroke-linecap="butt"/><line x1="30.2" y1="365.4" x2="34.3" y2="368.9" stroke="#131722" stroke-width="1.3" stroke-linecap="butt"/><path d="M18.6 418.4 V408 a7.5 7.5 0 0 1 15 0 V418.4 H29.4 V408 a3.3 3.3 0 0 0 -6.6 0 V418.4 Z M18.6 414.6 H22.8 M29.4 414.6 H33.6" fill="none" stroke="#131722" stroke-width="1.2"/><g transform="translate(22.45 443.5) rotate(-45)"><path d="M-10.2 0 L-6.8 -3 H9 a1 1 0 0 1 1 1 V2 a1 1 0 0 1 -1 1 H-6.8 Z M-6.8 -3 V3 M-6.8 0 H6.8 M6.8 -3 V3" fill="none" stroke="#131722" stroke-width="1.1" stroke-linejoin="round"/></g><rect x="27.7" y="449.6" width="7.6" height="5.5" rx="0.9" fill="#fff" stroke="#131722" stroke-width="1.15"/><path d="M29.5 449.6 V446.6 a2.1 2.1 0 0 1 4.2 0 V447.2" fill="none" stroke="#131722" stroke-width="1.15"/><ellipse cx="31.5" cy="452.9" rx="0.6" ry="1" fill="#131722"/><rect x="18.6" y="479.9" width="15" height="11.4" rx="1.9" fill="none" stroke="#131722" stroke-width="1.2"/><path d="M22.6 479.9 V475.3 a3.65 3.65 0 0 1 7.2 -0.9" fill="none" stroke="#131722" stroke-width="1.2"/><rect x="25.3" y="484.6" width="1.5" height="4" rx="0.4" fill="#131722"/><path d="M16 517.9 C20 509.3 32 509.3 36 517.9 C32 526.5 20 526.5 16 517.9 Z" fill="none" stroke="#131722" stroke-width="1.2"/><circle cx="26" cy="517.9" r="2.9" fill="#131722"/><path d="M19 559.7 H32 M20 560 V574.4 a2 2 0 0 0 2 2 H29.1 a2 2 0 0 0 2 -2 V560 M22.6 563.8 V572.8 M25.8 563.8 V572.8 M29 563.8 V572.8" fill="none" stroke="#131722" stroke-width="1.2"/><rect x="23.4" y="557.9" width="5" height="1.6" rx="0.5" fill="#131722"/><path d="M17 726.8 L25.9 719.9 L35 726.8 L25.9 733.7 Z M18.4 730.9 L25.9 736.5 L33.7 730.9 M18.4 733.9 L25.9 739.6 L33.7 733.9" fill="none" stroke="#131722" stroke-width="1.25" stroke-linejoin="miter"/></svg>
<div class="sep" style="top:300px"></div><div class="sep" style="top:385px"></div><div class="sep" style="top:542px"></div>
<div class="tab"><svg width="7" height="26" viewBox="0 0 7 26"><path d="M4.9 9.2 L2.1 12.4 L4.9 15.7" fill="none" stroke="#8fa5af" stroke-width="1.2"/></svg></div>
<div class="logo"><svg style="position:absolute;left:-1px;top:-1px" width="34" height="34" viewBox="0 0 34 34"><g fill="#2f9fea"><circle cx="8.6" cy="17.7" r="2.7"/><circle cx="14.8" cy="14.4" r="4.5"/><circle cx="21.4" cy="15.6" r="2.5"/><circle cx="24.4" cy="19.6" r="3.2"/><rect x="6" y="17" width="21.4" height="5.8" rx="2.4"/><rect x="9" y="14" width="13" height="6"/></g><path d="M5.6 21 L13.7 14.8 L18.9 20 L24.6 14.6" fill="none" stroke="#fff" stroke-width="1.2"/><circle cx="13.7" cy="14.8" r="1.5" fill="#fff"/><circle cx="18.9" cy="20" r="1.5" fill="#fff"/></svg></div>
<div class="paxis"></div><div class="taxis"></div>
<div class="ptick" style="top:736px"></div><div class="plab" style="top:728.5px">103.000</div><div class="ptick" style="top:686px"></div><div class="plab" style="top:678.5px">104.000</div><div class="ptick" style="top:637px"></div><div class="plab" style="top:629.5px">105.000</div><div class="ptick" style="top:587px"></div><div class="plab" style="top:579.5px">106.000</div><div class="ptick" style="top:538px"></div><div class="plab" style="top:530.5px">107.000</div><div class="ptick" style="top:488px"></div><div class="plab" style="top:480.5px">108.000</div><div class="ptick" style="top:438px"></div><div class="plab" style="top:430.5px">109.000</div><div class="ptick" style="top:389px"></div><div class="plab" style="top:381.5px">110.000</div><div class="ptick" style="top:339px"></div><div class="plab" style="top:331.5px">111.000</div><div class="ptick" style="top:290px"></div><div class="plab" style="top:282.5px">112.000</div><div class="ptick" style="top:240px"></div><div class="plab" style="top:232.5px">113.000</div><div class="ptick" style="top:190px"></div><div class="plab" style="top:182.5px">114.000</div><div class="ptick" style="top:141px"></div><div class="plab" style="top:133.5px">115.000</div><div class="ptick" style="top:91px"></div><div class="plab" style="top:83.5px">116.000</div><div class="ptick" style="top:42px"></div><div class="plab" style="top:34.5px">117.000</div>
<div class="ttick" style="left:79px"></div><div class="tlab" style="left:49.0px">6</div><div class="ttick" style="left:175px"></div><div class="tlab" style="left:145.0px">13</div><div class="ttick" style="left:271px"></div><div class="tlab" style="left:241.0px">20</div><div class="ttick" style="left:424px"></div><div class="tlab b" style="left:394.0px">Sep</div><div class="ttick" style="left:519px"></div><div class="tlab" style="left:489.0px">8</div><div class="ttick" style="left:615px"></div><div class="tlab" style="left:585.0px">15</div><div class="ttick" style="left:711px"></div><div class="tlab" style="left:681.0px">22</div><div class="ttick" style="left:845px"></div><div class="tlab b" style="left:815.0px">Oct</div><div class="ttick" style="left:940px"></div><div class="tlab" style="left:910.0px">8</div><div class="ttick" style="left:1036px"></div><div class="tlab" style="left:1006.0px">15</div><div class="ttick" style="left:1132px"></div><div class="tlab" style="left:1102.0px">22</div><div class="ttick" style="left:1246px"></div><div class="tlab b" style="left:1216.0px">Nov</div>
<div class="abs" style="left:1307px;top:742px;width:59px;height:26px;background:#fff"></div>
<div class="cur"><i></i><span>113.545</span></div>
<div class="title" style="left:64.7px;transform:scaleX(0.868);transform-origin:0 0;letter-spacing:0">USDX</div><div class="abs" style="left:107px;top:16.4px;width:2.2px;height:2.2px;background:#a6a9b2;border-radius:0.4px"></div><div class="title" style="left:113.5px;letter-spacing:0.35px">240</div><div class="abs" style="left:143.8px;top:16.4px;width:2.2px;height:2.2px;background:#a6a9b2;border-radius:0.4px"></div><div class="title" style="left:150.9px;letter-spacing:0.28px">US Dollar Index</div>
<div class="ohlc" style="left:269.8px">O<b>113.530</b></div><div class="ohlc" style="left:331.4px;letter-spacing:-0.1px">H<b>113.665</b></div><div class="ohlc" style="left:393.2px">L<b>113.455</b></div><div class="ohlc" style="left:451.8px;letter-spacing:-0.1px">C<b>113.545</b></div><div class="ohlc" style="left:511.6px"><b>+0.010 (+0.01%)</b></div>
<div class="tog"><svg width="19" height="19" viewBox="0 0 19 19"><path d="M6 8 L9.5 11.2 L13 8" fill="none" stroke="#131722" stroke-width="1.4"/></svg></div>
<div class="leg" style="top:34.2px">MA 5 close 0</div><div class="val" style="top:34.2px;left:173.2px;color:#1f1fff">113.389</div>
<div class="leg" style="top:58px">MA 10 close 0</div><div class="val" style="top:58px;left:179.8px;color:#ff6d00">113.200</div>
<div class="leg" style="top:82px">MA 20 close 0</div><div class="val" style="top:82px;left:179.8px;color:#26c6da">112.612</div>
<div class="exit">Exit Full Screen (ESC)</div>
<div class="note" style="top:156.6px;letter-spacing:0.63px">không có lực cản</div><div class="note" style="top:172.6px;letter-spacing:0.9px">giá dễ dàng tìm về</div><div class="note" style="top:188.1px;letter-spacing:0.97px">vùng kháng cự</div>
<svg class="abs" style="left:1324px;top:744px" width="22" height="22" viewBox="0 0 22 22"><circle cx="11" cy="11" r="5.2" fill="none" stroke="#131722" stroke-width="1.3"/><g stroke="#131722" stroke-width="1.3"><line x1="16.60" y1="11.00" x2="18.60" y2="11.00"/><line x1="14.96" y1="14.96" x2="16.37" y2="16.37"/><line x1="11.00" y1="16.60" x2="11.00" y2="18.60"/><line x1="7.04" y1="14.96" x2="5.63" y2="16.37"/><line x1="5.40" y1="11.00" x2="3.40" y2="11.00"/><line x1="7.04" y1="7.04" x2="5.63" y2="5.63"/><line x1="11.00" y1="5.40" x2="11.00" y2="3.40"/><line x1="14.96" y1="7.04" x2="16.37" y2="5.63"/></g></svg>
</body></html>
